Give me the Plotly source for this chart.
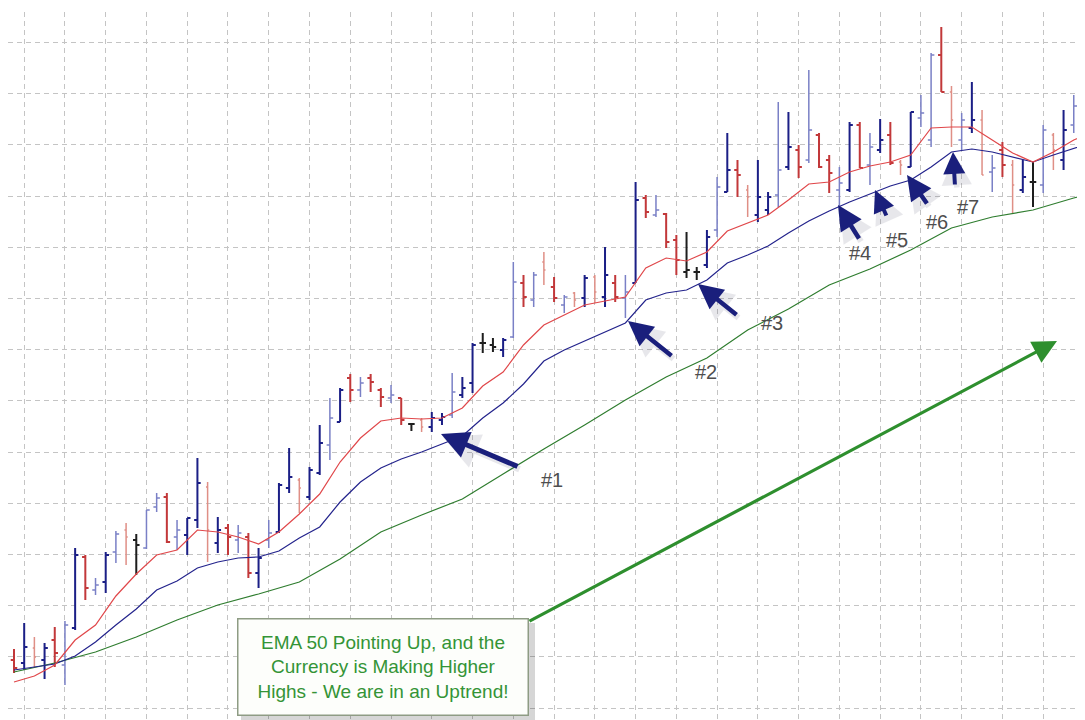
import plotly.graph_objects as go

# ---------------- data (price, one bar per session) ----------------
bar_index = list(range(106))

opens = [1.2548, 1.2545, 1.2560, 1.2548, 1.2568, 1.2543, 1.2580, 1.2651, 1.2618, 1.2626,
         1.2656, 1.2678, 1.2668, 1.2660, 1.2701, 1.2711, 1.2671, 1.2673, 1.2688, 1.2721,
         1.2665, 1.2680, 1.2668, 1.2671, 1.2635, 1.2668, 1.2676, 1.2720, 1.2728, 1.2711,
         1.2735, 1.2763, 1.2786, 1.2830, 1.2818, 1.2830, 1.2818, 1.2810, 1.2810, 1.2784,
         1.2788, 1.2781, 1.2788, 1.2793, 1.2813, 1.2825, 1.2865, 1.2863, 1.2858, 1.2871,
         1.2925, 1.2908, 1.2946, 1.2921, 1.2903, 1.2915, 1.2910, 1.2931, 1.2911, 1.2925,
         1.2910, 1.2925, 1.3010, 1.2993, 1.2994, 1.2968, 1.2936, 1.2936, 1.2943, 1.2978,
         1.3016, 1.3038, 1.3018, 1.2993, 1.2998, 1.3013, 1.3041, 1.3058, 1.3048, 1.3073,
         1.3048, 1.3018, 1.3018, 1.3083, 1.3043, 1.3058, 1.3073, 1.3046, 1.3041, 1.3090,
         1.3068, 1.3153, 1.3116, 1.3068, 1.3080, 1.3088, 1.3036, 1.3058, 1.3043, 1.3018,
         1.3026, 1.3023, 1.3073, 1.3048, 1.3083, 1.3123]

highs = [1.2559, 1.2585, 1.2571, 1.2565, 1.2581, 1.2587, 1.2660, 1.2653, 1.2630, 1.2656,
         1.2677, 1.2685, 1.2674, 1.2698, 1.2715, 1.2715, 1.2688, 1.2690, 1.2750, 1.2726,
         1.2691, 1.2684, 1.2683, 1.2675, 1.2660, 1.2688, 1.2725, 1.2760, 1.2730, 1.2741,
         1.2783, 1.2810, 1.2820, 1.2834, 1.2831, 1.2834, 1.2820, 1.2823, 1.2810, 1.2785,
         1.2790, 1.2796, 1.2795, 1.2835, 1.2831, 1.2865, 1.2875, 1.2870, 1.2870, 1.2946,
         1.2933, 1.2936, 1.2956, 1.2931, 1.2913, 1.2916, 1.2933, 1.2933, 1.2961, 1.2933,
         1.2933, 1.3026, 1.3013, 1.3013, 1.2995, 1.2973, 1.2976, 1.2941, 1.2978, 1.3031,
         1.3075, 1.3048, 1.3023, 1.3048, 1.3016, 1.3106, 1.3096, 1.3063, 1.3138, 1.3075,
         1.3053, 1.3041, 1.3086, 1.3086, 1.3075, 1.3089, 1.3086, 1.3048, 1.3096, 1.3113,
         1.3155, 1.3181, 1.3122, 1.3095, 1.3126, 1.3098, 1.3053, 1.3066, 1.3048, 1.3048,
         1.3046, 1.3083, 1.3075, 1.3098, 1.3113, 1.3126]

lows = [1.2535, 1.2538, 1.2541, 1.2529, 1.2541, 1.2523, 1.2578, 1.2608, 1.2613, 1.2615,
        1.2645, 1.2643, 1.2633, 1.2659, 1.2696, 1.2665, 1.2658, 1.2653, 1.2680, 1.2646,
        1.2655, 1.2653, 1.2655, 1.2630, 1.2620, 1.2660, 1.2675, 1.2715, 1.2695, 1.2708,
        1.2733, 1.2748, 1.2786, 1.2806, 1.2811, 1.2816, 1.2801, 1.2805, 1.2783, 1.2777,
        1.2776, 1.2776, 1.2783, 1.2790, 1.2810, 1.2815, 1.2855, 1.2856, 1.2851, 1.2870,
        1.2901, 1.2901, 1.2923, 1.2906, 1.2895, 1.2901, 1.2901, 1.2905, 1.2901, 1.2906,
        1.2890, 1.2925, 1.2990, 1.2991, 1.2960, 1.2933, 1.2930, 1.2928, 1.2940, 1.2971,
        1.3016, 1.3011, 1.2991, 1.2986, 1.2993, 1.3001, 1.3038, 1.3030, 1.3045, 1.3040,
        1.3015, 1.3001, 1.3016, 1.3040, 1.3023, 1.3055, 1.3043, 1.3033, 1.3041, 1.3081,
        1.3061, 1.3116, 1.3061, 1.3058, 1.3075, 1.3033, 1.3016, 1.3031, 1.2995, 1.3015,
        1.3001, 1.3015, 1.3038, 1.3038, 1.3075, 1.3096]

closes = [1.2540, 1.2561, 1.2551, 1.2560, 1.2555, 1.2583, 1.2653, 1.2620, 1.2623, 1.2653,
          1.2674, 1.2671, 1.2663, 1.2698, 1.2710, 1.2666, 1.2678, 1.2690, 1.2725, 1.2678,
          1.2678, 1.2671, 1.2675, 1.2635, 1.2650, 1.2675, 1.2723, 1.2731, 1.2720, 1.2738,
          1.2765, 1.2790, 1.2818, 1.2818, 1.2825, 1.2826, 1.2811, 1.2813, 1.2788, 1.2784,
          1.2781, 1.2790, 1.2791, 1.2816, 1.2820, 1.2863, 1.2865, 1.2861, 1.2868, 1.2926,
          1.2911, 1.2933, 1.2938, 1.2910, 1.2911, 1.2908, 1.2930, 1.2916, 1.2933, 1.2911,
          1.2916, 1.3008, 1.2996, 1.2998, 1.2966, 1.2948, 1.2938, 1.2936, 1.2971, 1.3021,
          1.3038, 1.3033, 1.3011, 1.3011, 1.3011, 1.3038, 1.3061, 1.3041, 1.3078, 1.3041,
          1.3035, 1.3025, 1.3083, 1.3040, 1.3061, 1.3068, 1.3045, 1.3043, 1.3096, 1.3095,
          1.3153, 1.3116, 1.3088, 1.3088, 1.3088, 1.3033, 1.3040, 1.3043, 1.3023, 1.3031,
          1.3026, 1.3078, 1.3058, 1.3078, 1.3102, 1.3098]

# drawing tone of each bar as it appears in the picture
bar_tone = ["d", "u", "dl", "u", "d", "ul", "u", "d", "ul", "u",
            "ul", "dl", "k", "ul", "ul", "d", "ul", "u", "u", "dl",
            "u", "d", "ul", "d", "u", "ul", "u", "u", "dl", "u",
            "u", "ul", "u", "d", "ul", "d", "d", "ul", "d", "k",
            "dl", "u", "u", "ul", "u", "u", "k", "k", "u", "ul",
            "d", "ul", "dl", "d", "ul", "dl", "u", "dl", "u", "d",
            "ul", "u", "d", "ul", "d", "d", "k", "k", "u", "ul",
            "u", "d", "dl", "u", "u", "ul", "u", "d", "ul", "d",
            "d", "ul", "u", "d", "ul", "u", "d", "dl", "u", "ul",
            "ul", "d", "dl", "ul", "u", "dl", "ul", "d", "dl", "u",
            "k", "ul", "dl", "u", "ul", "d"]

# moving averages
ema_fast_x = list(range(0, 105, 2)) + [105]
ema_fast = [1.2526, 1.2532, 1.2543, 1.2568, 1.2583, 1.2612, 1.2634, 1.2653, 1.2658, 1.2678,
            1.2676, 1.2671, 1.2664, 1.2676, 1.2694, 1.2714, 1.2746, 1.2770, 1.2787, 1.2790,
            1.2789, 1.2790, 1.2800, 1.2822, 1.2836, 1.2863, 1.2883, 1.2893, 1.2903, 1.2907,
            1.2911, 1.2940, 1.2950, 1.2947, 1.2956, 1.2977, 1.2985, 1.2993, 1.3008, 1.3024,
            1.3026, 1.3036, 1.3042, 1.3046, 1.3053, 1.3080, 1.3081, 1.3081, 1.3068, 1.3055,
            1.3046, 1.3056, 1.3068, 1.3072]

ema_mid_x = list(range(0, 105, 2)) + [105]
ema_mid = [1.2538, 1.2541, 1.2544, 1.2552, 1.2566, 1.2583, 1.2599, 1.2618, 1.2627, 1.2640,
           1.2646, 1.2650, 1.2651, 1.2657, 1.2670, 1.2681, 1.2706, 1.2726, 1.2740, 1.2749,
           1.2756, 1.2764, 1.2772, 1.2790, 1.2805, 1.2824, 1.2847, 1.2858, 1.2867, 1.2876,
           1.2885, 1.2908, 1.2915, 1.2918, 1.2928, 1.2945, 1.2953, 1.2962, 1.2975, 1.2987,
           1.2997, 1.3006, 1.3014, 1.3022, 1.3028, 1.3041, 1.3056, 1.3059, 1.3056, 1.3051,
           1.3046, 1.3053, 1.3060, 1.3063]

ema50_x = list(range(0, 105, 4)) + [105]
ema50 = [1.2536, 1.2545, 1.2556, 1.2571, 1.2588, 1.2603, 1.2614, 1.2626, 1.2649, 1.2676,
         1.2693, 1.2709, 1.2734, 1.2759, 1.2783, 1.2808, 1.2831, 1.2850, 1.2878, 1.2899,
         1.2923, 1.2939, 1.2958, 1.2980, 1.2991, 1.2998, 1.3010, 1.3013]

callout_text = "EMA 50 Pointing Up, and the<br>Currency is Making Higher<br>Highs - We are in an Uptrend!"
touch_labels = ["#1", "#2", "#3", "#4", "#5", "#6", "#7"]

# ---------------- figure ----------------
# the page body keeps its default 8px margin, so the figure starts at (8, 8)
PAGE_W, PAGE_H = 1085, 720
OFF = 8
FIG_W, FIG_H = PAGE_W - OFF, PAGE_H - OFF
PLOT_TOP = 12       # page y of plot-area top
PLOT_LEFT = 8       # page x of plot-area left

tones = {
    "u": dict(color="#1b1f86", width=2.0),
    "ul": dict(color="#7a80c6", width=1.5),
    "d": dict(color="#c2383a", width=2.0),
    "dl": dict(color="#df8f86", width=1.5),
    "k": dict(color="#1e1e1e", width=2.0),
}

fig = go.Figure()
for tone, st in tones.items():
    idx = [i for i, t in enumerate(bar_tone) if t == tone]
    xs = [bar_index[i] for i in idx]
    diffs = [b - a for a, b in zip(xs[:-1], xs[1:])]
    mind = min(diffs) if diffs else 1
    line = dict(color=st["color"], width=st["width"])
    fig.add_trace(go.Ohlc(
        x=xs,
        open=[opens[i] for i in idx], high=[highs[i] for i in idx],
        low=[lows[i] for i in idx], close=[closes[i] for i in idx],
        increasing=dict(line=line), decreasing=dict(line=line),
        tickwidth=0.32 / mind, hoverinfo="skip", showlegend=False,
    ))

fig.add_trace(go.Scatter(x=ema50_x, y=ema50, mode="lines",
                         line=dict(color="#2f7d2f", width=1.2), hoverinfo="skip", showlegend=False))
fig.add_trace(go.Scatter(x=ema_mid_x, y=ema_mid, mode="lines",
                         line=dict(color="#23238c", width=1.2), hoverinfo="skip", showlegend=False))
fig.add_trace(go.Scatter(x=ema_fast_x, y=ema_fast, mode="lines",
                         line=dict(color="#e0474a", width=1.2), hoverinfo="skip", showlegend=False))


def pxx(x):
    # page pixel x -> paper fraction
    return (x - PLOT_LEFT) / (PAGE_W - PLOT_LEFT)


def pyy(y):
    # page pixel y -> paper fraction
    return (PAGE_H - y) / (PAGE_H - PLOT_TOP)


annotations = []

# navy arrows (tip, tail) in page pixels, with soft shadow
arrows = [((441, 434), (519, 467), 5.0),
          ((628, 321), (673, 357), 4.5),
          ((698, 284), (738, 316), 4.5),
          ((838, 205), (860, 240), 4.5),
          ((875, 190), (887, 217), 4.0),
          ((907, 175), (928, 205), 4.5),
          ((953, 152), (955, 186), 4.0)]
for (tx, ty), (sx, sy), w in arrows:
    annotations.append(dict(x=pxx(tx + 2), y=pyy(ty + 3), xref="paper", yref="paper",
                            ax=sx - tx, ay=sy - ty, text="", showarrow=True,
                            arrowhead=2, arrowsize=1.1, arrowwidth=w + 1.5,
                            arrowcolor="rgba(70,70,100,0.12)", standoff=0))
for (tx, ty), (sx, sy), w in arrows:
    annotations.append(dict(x=pxx(tx), y=pyy(ty), xref="paper", yref="paper",
                            ax=sx - tx, ay=sy - ty, text="", showarrow=True,
                            arrowhead=2, arrowsize=1.1, arrowwidth=w,
                            arrowcolor="#1a1f7c", standoff=0))

label_pos = [(552, 480), (706, 372), (772, 323), (860, 253), (897, 240), (937, 222), (968, 207)]
for lab, (lx, ly) in zip(touch_labels, label_pos):
    annotations.append(dict(x=pxx(lx), y=pyy(ly), xref="paper", yref="paper",
                            text=lab, showarrow=False, xanchor="center", yanchor="middle",
                            font=dict(family="Arial, Liberation Sans", size=20, color="#4e4e4e")))

# green trend arrow
annotations.append(dict(x=pxx(1057), y=pyy(341), xref="paper", yref="paper",
                        ax=528 - 1057, ay=622 - 341, text="", showarrow=True,
                        arrowhead=2, arrowsize=1.5, arrowwidth=3.2,
                        arrowcolor="#2e8f2e", standoff=0))

# callout box
annotations.append(dict(x=pxx(382.5), y=pyy(666.5), xref="paper", yref="paper",
                        xanchor="center", yanchor="middle", showarrow=False,
                        text=callout_text, align="center", width=289, height=95,
                        bgcolor="#fdfefb", bordercolor="#8e9c84", borderwidth=1.5, borderpad=0,
                        font=dict(family="Arial, Liberation Sans", size=19, color="#349436")))

shapes = [dict(type="rect", xref="paper", yref="paper",
               x0=pxx(241), x1=pxx(535), y0=pyy(721), y1=pyy(623),
               fillcolor="rgba(0,0,0,0.16)", line=dict(width=0), layer="above")]

grid = dict(showgrid=True, gridcolor="#c4c4c4", gridwidth=1, griddash="5px,4px",
            showticklabels=False, zeroline=False, showline=False, ticks="")

fig.update_layout(
    width=FIG_W, height=FIG_H,
    margin=dict(l=PLOT_LEFT - OFF, r=0, t=PLOT_TOP - OFF, b=0, pad=0),
    paper_bgcolor="white", plot_bgcolor="white",
    xaxis=dict(range=[(PLOT_LEFT - 14) / 10.19, (PAGE_W - 14) / 10.19], tick0=1, dtick=4,
               rangeslider=dict(visible=False), **grid),
    yaxis=dict(range=[1.2488, 1.3196], tick0=1.25, dtick=0.00512, **grid),
    annotations=annotations, shapes=shapes,
    showlegend=False,
)

fig.write_html("out.html")
